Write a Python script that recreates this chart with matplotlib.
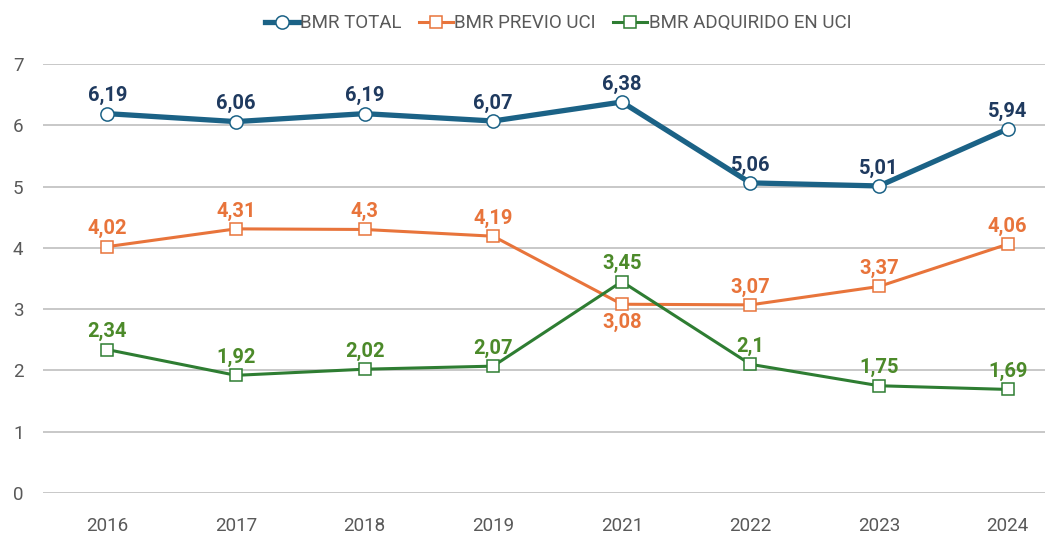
import matplotlib
matplotlib.use("Agg")
import matplotlib.pyplot as plt
from matplotlib import font_manager

years = ["2016", "2017", "2018", "2019", "2021", "2022", "2023", "2024"]
total = [6.19, 6.06, 6.19, 6.07, 6.38, 5.06, 5.01, 5.94]
previo = [4.02, 4.31, 4.30, 4.19, 3.08, 3.07, 3.37, 4.06]
adquirido = [2.34, 1.92, 2.02, 2.07, 3.45, 2.10, 1.75, 1.69]
series_names = ["BMR TOTAL", "BMR PREVIO UCI", "BMR ADQUIRIDO EN UCI"]
y_ticks = [0, 1, 2, 3, 4, 5, 6, 7]

names = {f.name for f in font_manager.fontManager.ttflist}
fam = [f for f in ["Liberation Sans Narrow", "Roboto", "DejaVu Sans"] if f in names]
plt.rcParams["font.family"] = fam

def fmt(v):
    s = f"{v:.2f}".rstrip("0").rstrip(".")
    return s.replace(".", ",")

fig = plt.figure(figsize=(10.45, 5.33), dpi=100)
ax = fig.add_axes([43/1045, 40/533, 1029/1045, 429/533])
x = list(range(len(years)))

c_total, c_total_lbl = "#1B6286", "#1F3A5F"
c_prev = "#E8743B"
c_adq, c_adq_lbl = "#2E7D32", "#4C8A2A"

ax.plot(x, total, color=c_total, lw=3.8, marker="o", ms=9.5, mfc="white",
        mec=c_total, mew=1.1, label=series_names[0], zorder=4)
ax.plot(x, previo, color=c_prev, lw=2.2, marker="s", ms=8, mfc="white",
        mec=c_prev, mew=1.1, label=series_names[1], zorder=3)
ax.plot(x, adquirido, color=c_adq, lw=2.2, marker="s", ms=8, mfc="white",
        mec=c_adq, mew=1.1, label=series_names[2], zorder=3)

fs = 14.5
for i, v in enumerate(total):
    ax.annotate(fmt(v), (i, v), xytext=(0, 6), textcoords="offset points",
                ha="center", va="bottom", color=c_total_lbl, fontsize=fs, fontweight="bold")
for i, v in enumerate(previo):
    if years[i] == "2021":
        ax.annotate(fmt(v), (i, v), xytext=(0, -6), textcoords="offset points",
                    ha="center", va="top", color=c_prev, fontsize=fs, fontweight="bold")
    else:
        ax.annotate(fmt(v), (i, v), xytext=(0, 6), textcoords="offset points",
                    ha="center", va="bottom", color=c_prev, fontsize=fs, fontweight="bold")
for i, v in enumerate(adquirido):
    ax.annotate(fmt(v), (i, v), xytext=(0, 6), textcoords="offset points",
                ha="center", va="bottom", color=c_adq_lbl, fontsize=fs, fontweight="bold")

ax.set_xlim(-0.5, len(years) - 0.5)
ax.set_ylim(0, 7)
ax.set_yticks(y_ticks)
ax.set_xticks(x)
ax.set_xticklabels(years)
ax.grid(axis="y", color="#BFBFBF", lw=1.2)
ax.set_axisbelow(True)
for s in ax.spines.values():
    s.set_visible(False)
ax.tick_params(length=0, labelsize=13.5, colors="#595959")
ax.tick_params(axis="y", pad=14)
ax.tick_params(axis="x", pad=17)

fig.legend(loc="upper center", bbox_to_anchor=(558/1045, 1.005), ncol=3, frameon=False,
           fontsize=13.5, labelcolor="#595959", handlelength=1.8, handletextpad=0.1,
           columnspacing=0.9)

fig.savefig("out.png", dpi=100)
